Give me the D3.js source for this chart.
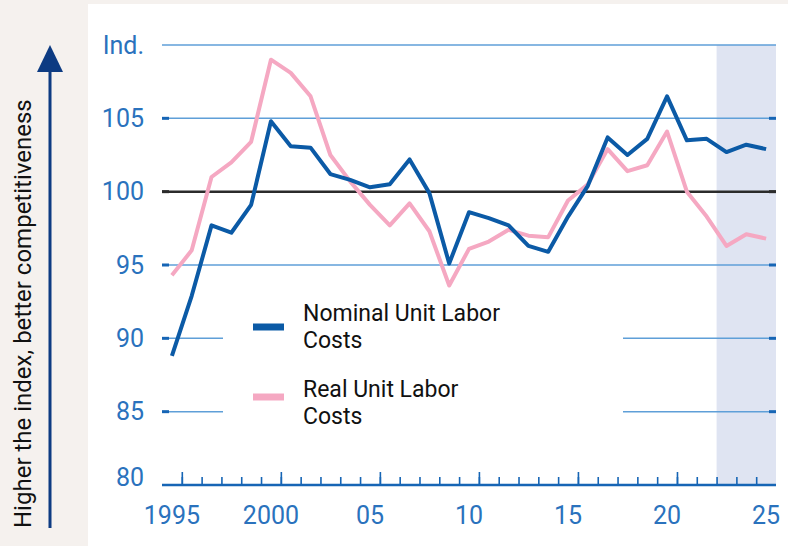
<!DOCTYPE html>
<html>
<head>
<meta charset="utf-8">
<script src="https://cdn.jsdelivr.net/npm/d3@7"></script>
<style>
    body { margin: 0; background: #f5f1ee; }
    svg { display: block; font-family: Roboto, "Noto Sans", sans-serif; }
</style>
</head>
<body>
<svg id="painter" width="788" height="546"></svg>
<script>
const years = d3.range(1995, 2026);
const nominal = [
    88.8, 92.9, 97.7, 97.2, 99.1, 104.8, 103.1, 103.0, 101.2, 100.8,
    100.3, 100.5, 102.2, 99.9, 95.1, 98.6, 98.2, 97.7, 96.3, 95.9,
    98.3, 100.4, 103.7, 102.5, 103.6, 106.5, 103.5, 103.6, 102.7, 103.2, 102.9,
];
const real = [
    94.3, 96.0, 101.0, 102.0, 103.4, 109.0, 108.1, 106.5, 102.5, 100.7,
    99.1, 97.7, 99.2, 97.3, 93.6, 96.1, 96.6, 97.4, 97.0, 96.9,
    99.4, 100.5, 102.9, 101.4, 101.8, 104.1, 100.0, 98.3, 96.3, 97.1, 96.8,
];
const yTicks = [80, 85, 90, 95, 100, 105, 110];
const yTickLabels = ["80", "85", "90", "95", "100", "105", "Ind."];
const xLabelYears = [1995, 2000, 2005, 2010, 2015, 2020, 2025];
const xLabels = ["1995", "2000", "05", "10", "15", "20", "25"];
const forecastFrom = 2022.5;

const blue = "#0b5aa6";
const pink = "#f5a8c2";
const gridBlue = "#5f9fd8";
const axisBlue = "#1665b5";
const labelBlue = "#2a72bd";

const svg = d3.select("#painter");

// white panel
svg.append("rect")
    .attr("x", 88)
    .attr("y", 4)
    .attr("width", 700)
    .attr("height", 542)
    .attr("fill", "#ffffff");

const x = d3.scaleLinear().domain([1994.5, 2025.5]).range([162, 776]);
const y = d3.scaleLinear().domain([80, 110]).range([485, 45]);

// forecast shading
svg.append("rect")
    .attr("x", x(forecastFrom))
    .attr("y", y(110))
    .attr("width", x(2025.5) - x(forecastFrom))
    .attr("height", y(80) - y(110))
    .attr("fill", "#dfe4f2");

// gridlines
const grid = svg.append("g");
grid.selectAll("line.grid")
    .data(yTicks.filter((d) => d > 80))
    .enter()
    .append("line")
    .attr("class", "grid")
    .attr("x1", x(1994.5))
    .attr("x2", x(2025.5))
    .attr("y1", (d) => y(d))
    .attr("y2", (d) => y(d))
    .attr("stroke", (d) => (d === 100 ? "#2b2b2b" : gridBlue))
    .attr("stroke-width", (d) => (d === 100 ? 2.5 : 1.5));

// small thick stubs at both ends of gridlines
[x(1994.5), x(2025.5) - 7].forEach((x0) => {
    grid.selectAll(null)
        .data(yTicks.filter((d) => d > 80 && d < 110))
        .enter()
        .append("line")
        .attr("x1", x0)
        .attr("x2", x0 + 7)
        .attr("y1", (d) => y(d))
        .attr("y2", (d) => y(d))
        .attr("stroke", (d) => (d === 100 ? "#2b2b2b" : axisBlue))
        .attr("stroke-width", 3);
});

// y labels
svg.append("g")
    .selectAll("text")
    .data(yTicks)
    .enter()
    .append("text")
    .attr("x", 144)
    .attr("y", (d) => (d === 80 ? y(d) - 8 : y(d)))
    .attr("dy", "0.35em")
    .attr("text-anchor", "end")
    .attr("fill", labelBlue)
    .attr("font-size", 25)
    .text((d, i) => yTickLabels[i]);

// legend box hides the gridlines behind it
svg.append("rect")
    .attr("x", 223)
    .attr("y", 295)
    .attr("width", 400)
    .attr("height", 135)
    .attr("fill", "#ffffff");

const legendItems = [
    { name: ["Nominal Unit Labor", "Costs"], color: blue, y: 327, ty: 321 },
    { name: ["Real Unit Labor", "Costs"], color: pink, y: 397, ty: 397 },
];
const legend = svg.append("g");
legendItems.forEach((d) => {
    legend.append("line")
        .attr("x1", 253)
        .attr("x2", 284)
        .attr("y1", d.y)
        .attr("y2", d.y)
        .attr("stroke", d.color)
        .attr("stroke-width", 7);
    legend.append("text")
        .attr("x", 303)
        .attr("y", d.ty)
        .attr("font-size", 23)
        .attr("fill", "#111")
        .selectAll("tspan")
        .data(d.name)
        .enter()
        .append("tspan")
        .attr("x", 303)
        .attr("dy", (t, i) => (i === 0 ? 0 : 27))
        .text((t) => t);
});

// data lines
const line = d3.line()
    .x((d, i) => x(years[i]))
    .y((d) => y(d));

svg.append("path")
    .datum(real)
    .attr("d", line)
    .attr("fill", "none")
    .attr("stroke", pink)
    .attr("stroke-width", 4)
    .attr("stroke-linejoin", "round");

svg.append("path")
    .datum(nominal)
    .attr("d", line)
    .attr("fill", "none")
    .attr("stroke", blue)
    .attr("stroke-width", 4)
    .attr("stroke-linejoin", "round");

// x axis: minor and major ticks sit on year boundaries
const boundaries = d3.range(1995.5, 2025, 1);
const minorAxis = d3.axisTop(x)
    .tickValues(boundaries)
    .tickSize(8)
    .tickFormat("");
const majorAxis = d3.axisTop(x)
    .tickValues(boundaries.filter((d) => (d - 0.5) % 5 === 0 && d < 2025))
    .tickSize(13)
    .tickFormat("");

const xAxis = svg.append("g").attr("transform", "translate(0," + y(80) + ")");
xAxis.append("g").call(minorAxis);
xAxis.append("g").call(majorAxis);
xAxis.selectAll(".domain").remove();
xAxis.selectAll(".tick line")
    .attr("stroke", axisBlue)
    .attr("stroke-width", 1.6);
xAxis.append("line")
    .attr("x1", x(1994.5))
    .attr("x2", x(2025.5))
    .attr("stroke", axisBlue)
    .attr("stroke-width", 2.5);

xAxis.selectAll("text.lab")
    .data(xLabelYears)
    .enter()
    .append("text")
    .attr("class", "lab")
    .attr("x", (d) => x(d))
    .attr("y", 39)
    .attr("text-anchor", "middle")
    .attr("fill", labelBlue)
    .attr("font-size", 25)
    .text((d, i) => xLabels[i]);

// side note with arrow
const note = svg.append("g");
note.append("line")
    .attr("x1", 50)
    .attr("x2", 50)
    .attr("y1", 528)
    .attr("y2", 70)
    .attr("stroke", "#0d3b82")
    .attr("stroke-width", 3);
note.append("path")
    .attr("d", "M37,72 L50,45 L63,72 Z")
    .attr("fill", "#0d3b82");
note.append("text")
    .attr("transform", "translate(31,528) rotate(-90)")
    .attr("font-size", 24)
    .attr("fill", "#111")
    .text("Higher the index, better competitiveness");
</script>
</body>
</html>
